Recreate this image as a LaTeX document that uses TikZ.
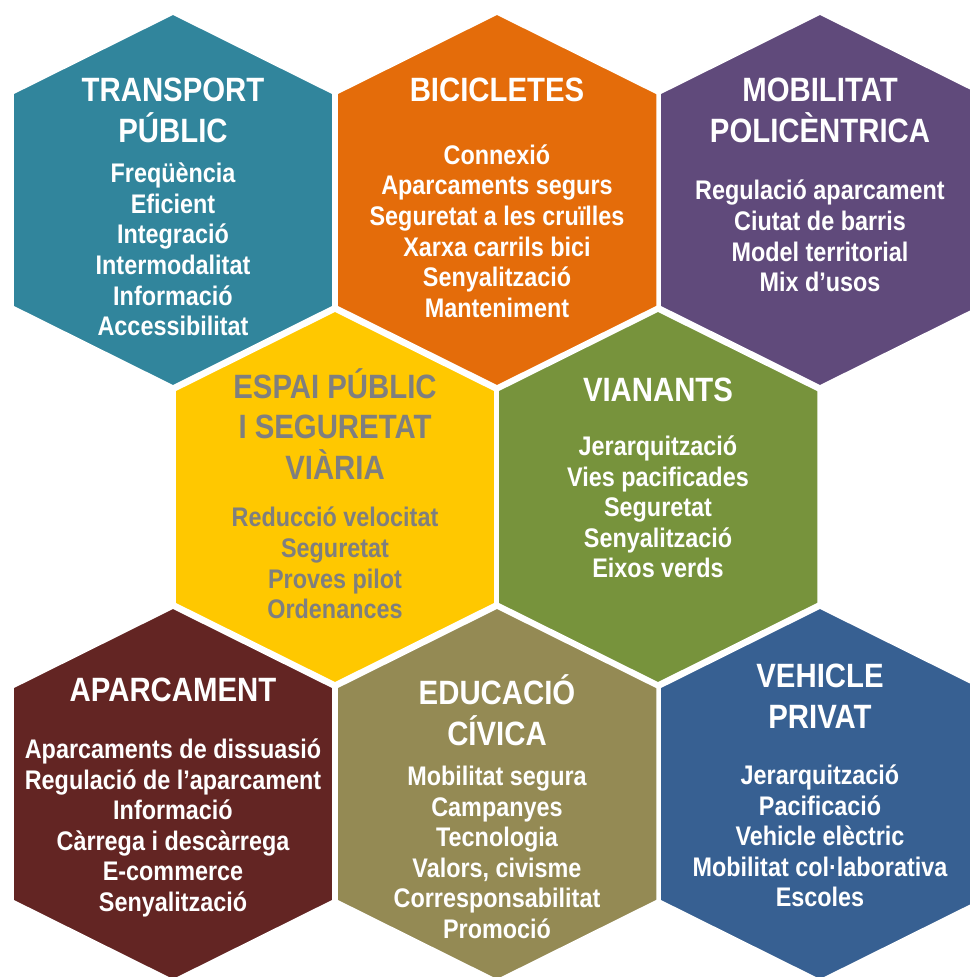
\documentclass[tikz,border=0pt]{standalone}
\usepackage{fontspec}
\setmainfont{Liberation Sans}[FakeStretch=0.87]
\usetikzlibrary{calc}

\definecolor{transportcol}{HTML}{31859C}
\definecolor{bicicol}{HTML}{E46C0A}
\definecolor{mobilcol}{HTML}{604A7B}
\definecolor{espaicol}{HTML}{FFC800}
\definecolor{viancol}{HTML}{77933C}
\definecolor{aparcol}{HTML}{632523}
\definecolor{educol}{HTML}{948A54}
\definecolor{vehiclecol}{HTML}{376092}
\definecolor{greytext}{HTML}{7F7F7F}

\begin{document}
\begin{tikzpicture}[x=0.02cm, y=-0.02cm,
  cell/.style={draw=white, line width=2pt, line join=miter},
  title/.style={align=center, text=white, inner sep=0pt, font=\bfseries\fontsize{19.2}{23.2}\selectfont},
  list/.style={align=center, text=white, inner sep=0pt, font=\bfseries\fontsize{15.3}{17.4}\selectfont}]

\useasboundingbox (0,0) rectangle (970,977);
\clip (0,0) rectangle (970,977);

% top row
\begin{scope}[shift={(173,200)}]
 \draw [cell, fill=transportcol] (0,-187) -- (161,-107) -- (161,107) -- (0,187) -- (-161,107) -- (-161,-107) -- cycle;
 \node[title] (transport) at (0,-89.5) {TRANSPORT\\PÚBLIC};
 \node[list] (transportlist) at (0,49.5) {Freqüència\\Eficient\\Integració\\Intermodalitat\\Informació\\Accessibilitat};
\end{scope}

\begin{scope}[shift={(497,200)}]
 \draw [cell, fill=bicicol] (0,-187) -- (161,-107) -- (161,107) -- (0,187) -- (-161,107) -- (-161,-107) -- cycle;
 \node[title] (bici) at (0,-110) {BICICLETES};
 \node[list] (bicilist) at (0,31) {Connexió\\Aparcaments segurs\\Seguretat a les cruïlles\\Xarxa carrils bici\\Senyalització\\Manteniment};
\end{scope}

\begin{scope}[shift={(820,200)}]
 \draw [cell, fill=mobilcol] (0,-187) -- (161,-107) -- (161,107) -- (0,187) -- (-161,107) -- (-161,-107) -- cycle;
 \node[title] (mobil) at (0,-89.5) {MOBILITAT\\POLICÈNTRICA};
 \node[list] (mobillist) at (0,36) {Regulació aparcament\\Ciutat de barris\\Model territorial\\Mix d’usos};
\end{scope}

% middle row
\begin{scope}[shift={(335,497)}]
 \draw [cell, fill=espaicol] (0,-187) -- (161,-107) -- (161,107) -- (0,187) -- (-161,107) -- (-161,-107) -- cycle;
 \node[title, text=greytext] (espai) at (0,-73) {ESPAI PÚBLIC\\I SEGURETAT\\VIÀRIA};
 \node[list, text=greytext] (espailist) at (0,66) {Reducció velocitat\\Seguretat\\Proves pilot\\Ordenances};
\end{scope}

\begin{scope}[shift={(658,497)}]
 \draw [cell, fill=viancol] (0,-187) -- (161,-107) -- (161,107) -- (0,187) -- (-161,107) -- (-161,-107) -- cycle;
 \node[title] (vianants) at (0,-107) {VIANANTS};
 \node[list] (vianantslist) at (0,10) {Jerarquització\\Vies pacificades\\Seguretat\\Senyalització\\Eixos verds};
\end{scope}

% bottom row
\begin{scope}[shift={(173,794)}]
 \draw [cell, fill=aparcol] (0,-187) -- (161,-107) -- (161,107) -- (0,187) -- (-161,107) -- (-161,-107) -- cycle;
 \node[title] (aparc) at (0,-104) {APARCAMENT};
 \node[list] (aparclist) at (0,34) {Aparcaments de dissuasió\\Regulació de l’aparcament\\Informació\\Càrrega i descàrrega\\E-commerce\\Senyalització};
\end{scope}

\begin{scope}[shift={(497,794)}]
 \draw [cell, fill=educol] (0,-187) -- (161,-107) -- (161,107) -- (0,187) -- (-161,107) -- (-161,-107) -- cycle;
 \node[title] (educ) at (0,-84) {EDUCACIÓ\\CÍVICA};
 \node[list] (educlist) at (0,58.5) {Mobilitat segura\\Campanyes\\Tecnologia\\Valors, civisme\\Corresponsabilitat\\Promoció};
\end{scope}

\begin{scope}[shift={(820,794)}]
 \draw [cell, fill=vehiclecol] (0,-187) -- (161,-107) -- (161,107) -- (0,187) -- (-161,107) -- (-161,-107) -- cycle;
 \node[title] (vehicle) at (0,-97.5) {VEHICLE\\PRIVAT};
 \node[list] (vehiclelist) at (0,42) {Jerarquització\\Pacificació\\Vehicle elèctric\\Mobilitat col·laborativa\\Escoles};
\end{scope}

\end{tikzpicture}
\end{document}
